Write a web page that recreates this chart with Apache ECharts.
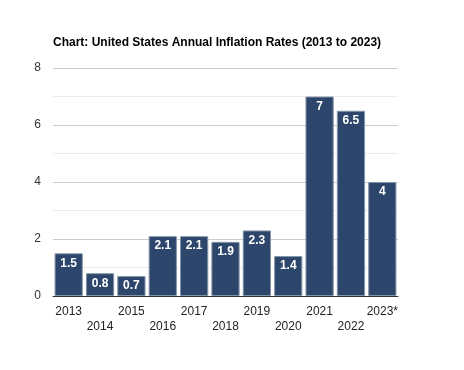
<!DOCTYPE html>
<html>
<head>
<meta charset="utf-8">
<script src="https://cdn.jsdelivr.net/npm/echarts@6/dist/echarts.min.js"></script>
<style>html,body{margin:0;padding:0;background:#fff;}#c{width:464px;height:370px;}</style>
</head>
<body>
<div id="c"></div>
<script>
const categories = ['2013','2014','2015','2016','2017','2018','2019','2020','2021','2022','2023*'];
const values = [1.5, 0.8, 0.7, 2.1, 2.1, 1.9, 2.3, 1.4, 7, 6.5, 4];
const yTicks = [0, 2, 4, 6, 8];
const titleText = 'Chart: United States Annual Inflation Rates (2013 to 2023)';

const chart = echarts.init(document.getElementById('c'), null, {renderer: 'canvas'});
chart.setOption({
  animation: false,
  backgroundColor: '#fff',
  title: {
    text: titleText,
    left: 53, top: 37, padding: 0,
    textStyle: {fontFamily: 'Liberation Sans, Arial', fontSize: 12, fontWeight: 'bold', color: '#000'}
  },
  grid: {left: 53, right: 66, top: 68, bottom: 74, containLabel: false},
  xAxis: {
    type: 'category',
    data: categories,
    axisLine: {show: true, lineStyle: {color: '#333', width: 1}},
    axisTick: {show: false},
    axisLabel: {
      interval: 0,
      fontFamily: 'Liberation Sans, Arial', fontSize: 12, color: '#222',
      margin: 8,
      lineHeight: 15,
      formatter: function (v, i) { return i % 2 === 1 ? '\n' + v : v; }
    }
  },
  yAxis: {
    type: 'value',
    min: yTicks[0], max: yTicks[yTicks.length - 1], interval: 2,
    axisLine: {show: false},
    axisTick: {show: false},
    axisLabel: {fontFamily: 'Liberation Sans, Arial', fontSize: 12, color: '#333', margin: 12},
    splitLine: {show: true, lineStyle: {color: '#ccc', width: 1}},
    minorTick: {show: false, splitNumber: 2},
    minorSplitLine: {show: true, lineStyle: {color: '#ececec', width: 1}}
  },
  series: [{
    type: 'bar',
    data: values,
    barCategoryGap: '10%',
    itemStyle: {color: '#2c476b', borderColor: '#8494a8', borderWidth: 1},
    label: {
      show: true,
      position: 'insideTop',
      distance: 4,
      color: '#fff',
      fontFamily: 'Liberation Sans, Arial',
      fontSize: 12,
      fontWeight: 'bold'
    }
  }]
});
</script>
</body>
</html>
